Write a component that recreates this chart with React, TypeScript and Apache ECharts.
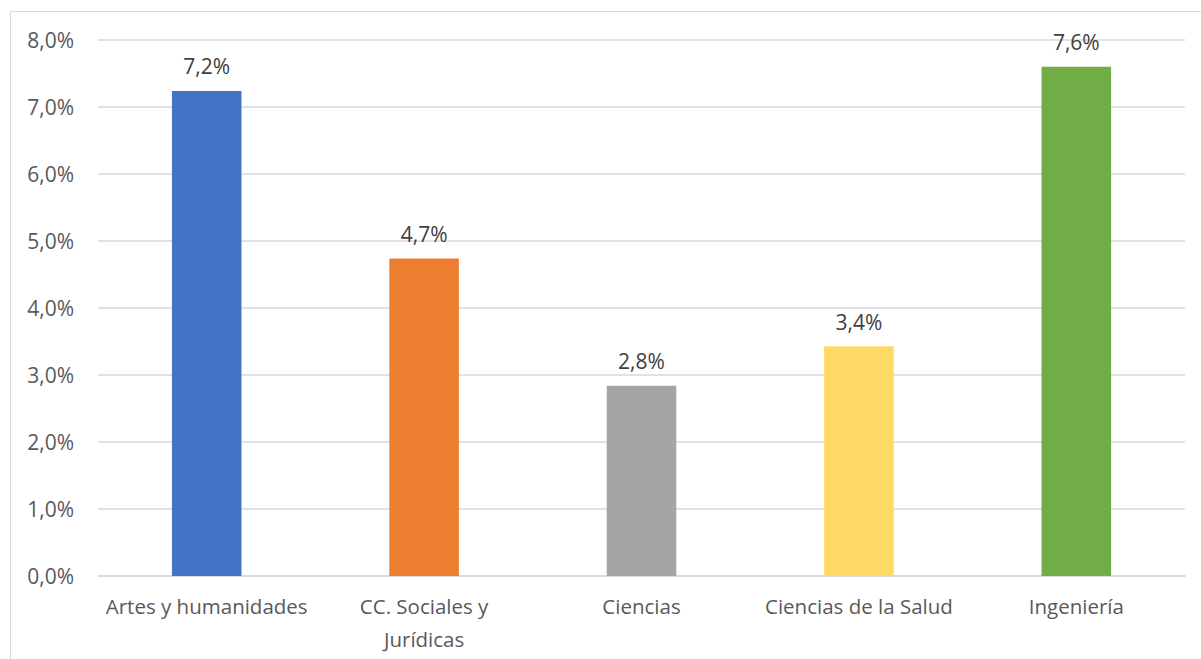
import React, { useEffect, useRef } from "react";
import * as echarts from "echarts";

const categories = ["Artes y humanidades", "CC. Sociales y\nJurídicas", "Ciencias", "Ciencias de la Salud", "Ingeniería"];
const values = [7.24, 4.74, 2.84, 3.43, 7.6];
const colors = ["#4472C4", "#ED7D31", "#A5A5A5", "#FFD966", "#70AD47"];

const FONT = "'Open Sans', 'Liberation Sans', sans-serif";
const fmt = (v: number) => v.toFixed(1).replace(".", ",") + "%";

export default function App() {
  const ref = useRef<HTMLDivElement>(null);
  useEffect(() => {
    const chart = echarts.init(ref.current!, null, { renderer: "svg" });
    chart.setOption({
      animation: false,
      backgroundColor: "#ffffff",
      graphic: [
        {
          type: "rect",
          shape: { x: 10.5, y: 11.5, width: 1220, height: 700 },
          style: { fill: "none", stroke: "#d9d9d9", lineWidth: 1 },
          silent: true,
        },
      ],
      grid: { left: 98, right: 16, top: 40, bottom: 83, containLabel: false },
      xAxis: {
        type: "category",
        data: categories,
        axisLine: { lineStyle: { color: "#d9d9d9", width: 1.5 } },
        axisTick: { show: false },
        axisLabel: {
          color: "#595959",
          fontSize: 20.5,
          fontFamily: FONT,
          margin: 13,
          lineHeight: 33,
          interval: 0,
        },
      },
      yAxis: {
        type: "value",
        min: 0,
        max: 8,
        interval: 1,
        axisLine: { show: false },
        axisTick: { show: false },
        splitLine: { lineStyle: { color: "#d9d9d9", width: 1.5 } },
        axisLabel: {
          color: "#595959",
          fontSize: 21,
          fontFamily: FONT,
          margin: 24,
          formatter: (v: number) => fmt(v),
        },
      },
      series: [
        {
          type: "bar",
          barWidth: "32%",
          data: values.map((v, i) => ({ value: v, itemStyle: { color: colors[i] } })),
          label: {
            show: true,
            position: "top",
            distance: 14,
            color: "#404040",
            fontSize: 21,
            fontFamily: FONT,
            formatter: (p: any) => fmt(p.value),
          },
        },
      ],
    });
    return () => chart.dispose();
  }, []);
  return (
    <div
      ref={ref}
      style={{ position: "fixed", left: 0, top: 0, width: 1201, height: 659 }}
    />
  );
}
